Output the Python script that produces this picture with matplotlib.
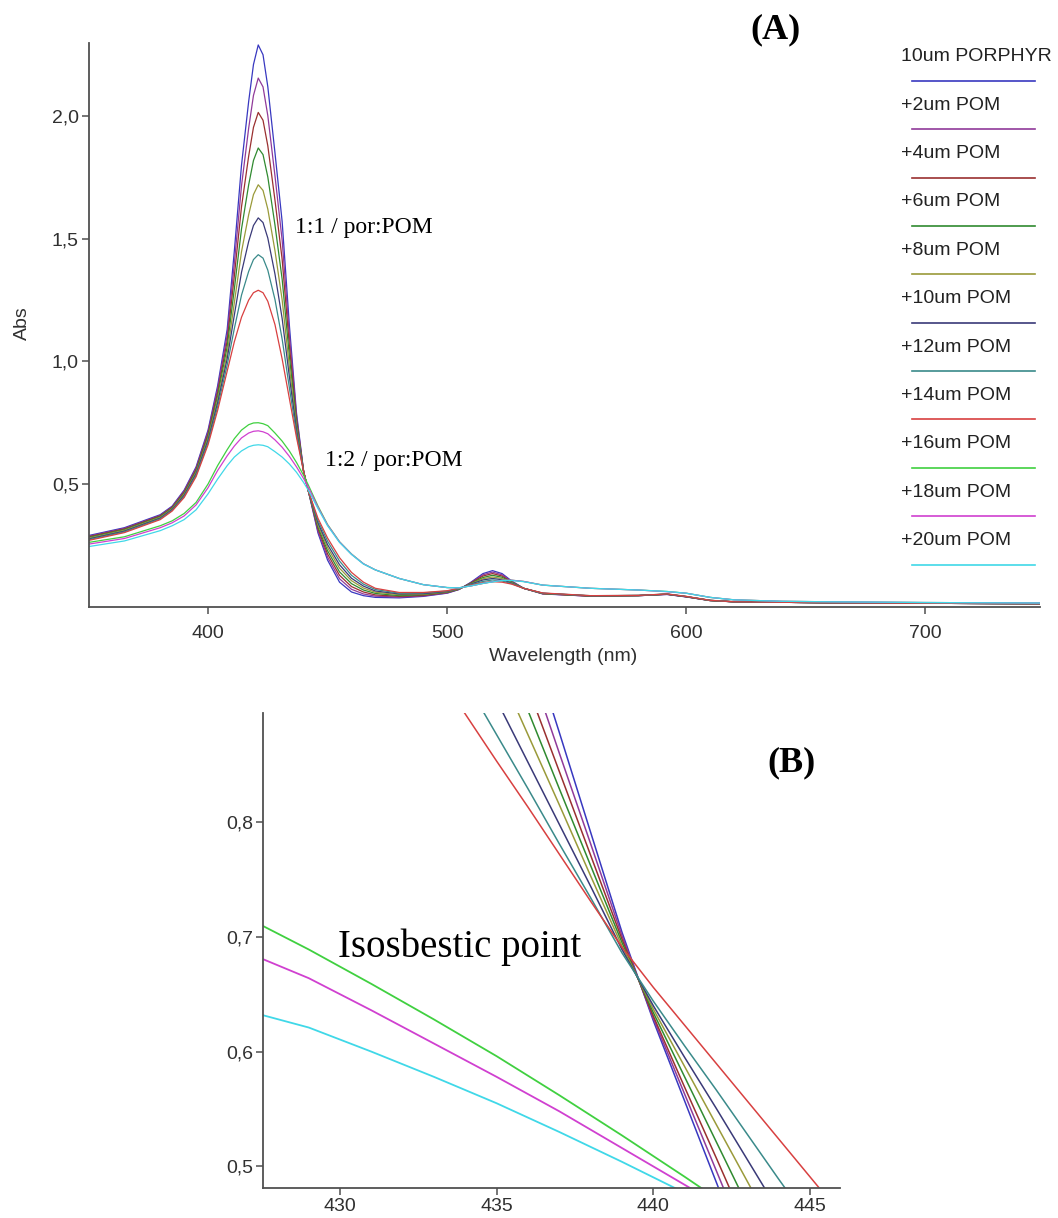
import matplotlib
matplotlib.use('Agg')
import matplotlib.pyplot as plt
from matplotlib.lines import Line2D

# ---------------- data ----------------
series_labels = ['10um PORPHYR', '+2um POM', '+4um POM', '+6um POM', '+8um POM',
                 '+10um POM', '+12um POM', '+14um POM', '+16um POM', '+18um POM',
                 '+20um POM']
series_colors = ['#3838c0', '#903a9a', '#9a3030', '#308a30', '#9a9a3a', '#3a3a78',
                 '#3a8a8a', '#d84040', '#40d040', '#d040d0', '#40d8e8']

# panel (A): full spectra
wl_a = [350, 365, 380, 385, 390, 395, 400, 404, 408, 411, 414, 417, 419, 421, 423,
        425, 428, 431, 434, 437, 440, 442, 446, 450, 455, 460, 465, 470, 480, 490,
        500, 505, 510, 515, 519, 523, 527, 532, 540, 560, 580, 592, 600, 610, 620,
        640, 660, 700, 750]

abs_porphyr = [.290, .322, .375, .410, .475, .570, .720, .900, 1.130, 1.450, 1.800, 2.060,
               2.210, 2.290, 2.250, 2.120, 1.850, 1.570, 1.150, .790, .550, .470, .300,
               .190, .100, .060, .045, .038, .036, .042, .055, .070, .100, .135, .147,
               .135, .105, .075, .052, .043, .045, .050, .040, .025, .020, .018, .016,
               .014, .012]
abs_pom2 = [.287, .319, .372, .407, .471, .565, .712, .887, 1.107, 1.400, 1.716, 1.951,
            2.084, 2.155, 2.119, 2.002, 1.756, 1.494, 1.110, .777, .550, .470, .308,
            .202, .114, .071, .052, .043, .039, .044, .056, .071, .098, .130, .141,
            .130, .103, .075, .053, .043, .045, .050, .040, .025, .020, .018, .016,
            .014, .012]
abs_pom4 = [.285, .317, .370, .405, .467, .559, .704, .873, 1.083, 1.348, 1.630, 1.837,
            1.954, 2.015, 1.983, 1.879, 1.657, 1.416, 1.067, .762, .550, .470, .317,
            .215, .128, .082, .060, .048, .042, .046, .058, .071, .097, .125, .135,
            .125, .101, .075, .053, .043, .045, .051, .041, .025, .020, .018, .016,
            .014, .012]
abs_pom6 = [.282, .314, .367, .402, .462, .553, .695, .858, 1.059, 1.295, 1.540, 1.720,
            1.819, 1.870, 1.843, 1.752, 1.556, 1.335, 1.024, .748, .550, .470, .325,
            .228, .142, .094, .068, .054, .045, .049, .059, .072, .095, .119, .128,
            .120, .100, .075, .054, .044, .045, .051, .041, .025, .020, .018, .016,
            .014, .012]
abs_pom8 = [.279, .311, .364, .399, .458, .547, .686, .843, 1.033, 1.239, 1.447, 1.598,
            1.680, 1.720, 1.697, 1.621, 1.451, 1.251, .979, .733, .550, .470, .334,
            .241, .157, .106, .076, .059, .049, .051, .061, .073, .093, .114, .121,
            .115, .098, .075, .054, .044, .046, .051, .041, .026, .020, .018, .016,
            .014, .012]
abs_pom10 = [.276, .308, .361, .396, .454, .542, .678, .830, 1.010, 1.189, 1.363, 1.489,
             1.554, 1.585, 1.566, 1.503, 1.356, 1.175, .939, .720, .550, .470, .342,
             .253, .171, .116, .084, .064, .052, .053, .062, .074, .092, .109, .115,
             .110, .096, .075, .055, .044, .046, .051, .041, .026, .020, .018, .016,
             .014, .012]
abs_pom12 = [.273, .305, .358, .393, .449, .536, .669, .815, .985, 1.134, 1.270, 1.367,
             1.415, 1.435, 1.421, 1.372, 1.252, 1.091, .894, .705, .550, .470, .351,
             .267, .186, .128, .092, .070, .055, .056, .064, .074, .090, .103, .109,
             .105, .094, .075, .055, .045, .046, .052, .042, .026, .020, .018, .016,
             .014, .012]
abs_pom14 = [.270, .302, .355, .390, .445, .530, .660, .800, .960, 1.080, 1.180, 1.250,
             1.280, 1.290, 1.280, 1.245, 1.150, 1.010, .850, .690, .550, .470, .360,
             .280, .200, .140, .100, .075, .058, .058, .065, .075, .088, .098, .102,
             .100, .092, .075, .056, .045, .046, .052, .042, .026, .020, .018, .016,
             .014, .012]
abs_pom16 = [.262, .285, .330, .350, .380, .425, .500, .575, .640, .685, .720, .742,
             .749, .750, .746, .738, .708, .675, .635, .588, .535, .495, .410, .335,
             .265, .215, .175, .150, .115, .090, .078, .077, .085, .095, .102, .108,
             .108, .103, .088, .075, .068, .062, .055, .038, .028, .022, .020, .017,
             .015]
abs_pom18 = [.255, .278, .322, .342, .370, .415, .485, .555, .615, .655, .688, .708,
             .715, .717, .713, .705, .680, .650, .613, .570, .522, .486, .405, .333,
             .264, .214, .175, .150, .115, .090, .078, .077, .085, .095, .102, .108,
             .108, .103, .088, .075, .068, .061, .055, .038, .028, .022, .020, .017,
             .015]
abs_pom20 = [.245, .268, .310, .330, .355, .395, .460, .520, .575, .610, .635, .652,
             .658, .660, .658, .652, .632, .610, .582, .548, .506, .474, .400, .330,
             .262, .213, .174, .150, .115, .090, .078, .077, .085, .095, .101, .107,
             .107, .102, .088, .075, .068, .062, .055, .038, .028, .022, .020, .017,
             .015]

# panel (B): zoom on the isosbestic point
wl_b_hi = [433, 434, 435, 436, 437, 438, 439, 440, 441, 442, 443, 444, 445, 446]
b_porphyr = [1.224, 1.137, 1.051, .964, .878, .791, .704, .627, .557, .487, .417, .347, .277, .207]
b_pom2 = [1.180, 1.100, 1.020, .940, .860, .781, .701, .629, .563, .497, .431, .365, .299, .233]
b_pom4 = [1.135, 1.062, .990, .917, .844, .771, .698, .631, .569, .508, .446, .384, .323, .261]
b_pom6 = [1.098, 1.031, .964, .897, .829, .762, .695, .634, .578, .522, .466, .410, .354, .298]
b_pom8 = [1.059, .998, .937, .876, .815, .753, .692, .637, .587, .537, .487, .437, .387, .337]
b_pom10 = [1.015, .961, .906, .852, .798, .744, .689, .640, .595, .551, .506, .461, .417, .372]
b_pom12 = [.971, .923, .876, .829, .781, .734, .686, .644, .605, .567, .528, .489, .451, .412]
b_pom14 = [.935, .894, .853, .813, .772, .731, .691, .656, .623, .590, .557, .524, .491, .458]

wl_b_lo = [427.5, 429, 431, 433, 435, 437, 439, 441, 443]
b_pom16 = [.710, .689, .659, .628, .596, .562, .527, .491, .454]
b_pom18 = [.681, .664, .636, .607, .578, .548, .516, .484, .452]
b_pom20 = [.632, .621, .600, .578, .555, .530, .504, .477, .450]

yticks_a = [0.5, 1.0, 1.5, 2.0]
yticklabels_a = ['0,5', '1,0', '1,5', '2,0']
xticks_a = [400, 500, 600, 700]
yticks_b = [0.5, 0.6, 0.7, 0.8]
yticklabels_b = ['0,5', '0,6', '0,7', '0,8']
xticks_b = [430, 435, 440, 445]

# ---------------- figure ----------------
W, H = 1058, 1218
SANS = ['Liberation Sans', 'DejaVu Sans']
SERIF = ['Liberation Serif', 'DejaVu Serif']
plt.rcParams['font.family'] = SANS

fig = plt.figure(figsize=(W / 100, H / 100), dpi=100)


def style_axes(ax, xpad):
    for side in ['top', 'right']:
        ax.spines[side].set_visible(False)
    for side in ['left', 'bottom']:
        ax.spines[side].set_color('#505050')
        ax.spines[side].set_linewidth(1.3)
    ax.tick_params(direction='out', length=5, width=1.1, color='#505050',
                   labelsize=14, labelcolor='#303030', pad=2)
    ax.tick_params(axis='x', pad=xpad)


# (A) full spectra
ax_a = fig.add_axes([88.5 / W, 1 - 606.7 / H, (1040 - 88.5) / W, (606.7 - 42.5) / H])
spectra_a = [abs_porphyr, abs_pom2, abs_pom4, abs_pom6, abs_pom8, abs_pom10,
             abs_pom12, abs_pom14, abs_pom16, abs_pom18, abs_pom20]
for vals, c in zip(spectra_a, series_colors):
    ax_a.plot(wl_a, vals, color=c, lw=0.9)
ax_a.set_xlim(350, 748)
ax_a.set_ylim(0, 2.3)
ax_a.set_xticks(xticks_a)
ax_a.set_yticks(yticks_a)
ax_a.set_yticklabels(yticklabels_a)
style_axes(ax_a, xpad=8)

ax_a.text(436.3, 1.544, '1:1 / por:POM', family=SERIF, fontsize=17, va='center', ha='left')
ax_a.text(448.9, 0.594, '1:2 / por:POM', family=SERIF, fontsize=17, va='center', ha='left')

fig.text(563 / W, 1 - 657 / H, 'Wavelength (nm)', fontsize=14, color='#303030',
         ha='center', va='center')
fig.text(22 / W, 1 - 323 / H, 'Abs', fontsize=14, color='#303030', rotation=90,
         ha='center', va='center')
fig.text(776 / W, 1 - 30 / H, '(A)', family=SERIF, fontsize=26, fontweight='bold',
         ha='center', va='center')

# legend drawn as in the original: label above, line below
for k, (lab, c) in enumerate(zip(series_labels, series_colors)):
    ty = 56.7 + 48.4 * k
    ly = 80.7 + 48.4 * k
    fig.text(901 / W, 1 - ty / H, lab, fontsize=14, color='#222222',
             ha='left', va='center')
    fig.add_artist(Line2D([912 / W, 1035 / W], [1 - ly / H, 1 - ly / H],
                          transform=fig.transFigure, color=c, lw=1.2))

# (B) zoom on isosbestic point
ax_b = fig.add_axes([263 / W, 1 - 1188 / H, (840 - 263) / W, (1188 - 713) / H])
spectra_b_hi = [b_porphyr, b_pom2, b_pom4, b_pom6, b_pom8, b_pom10, b_pom12, b_pom14]
for vals, c in zip(spectra_b_hi, series_colors[:8]):
    ax_b.plot(wl_b_hi, vals, color=c, lw=1.1)
for vals, c in zip([b_pom16, b_pom18, b_pom20], series_colors[8:]):
    ax_b.plot(wl_b_lo, vals, color=c, lw=1.3)
ax_b.set_xlim(427.54, 445.96)
ax_b.set_ylim(0.4812, 0.895)
ax_b.set_xticks(xticks_b)
ax_b.set_yticks(yticks_b)
ax_b.set_yticklabels(yticklabels_b)
style_axes(ax_b, xpad=2)

ax_b.text(444.4, 0.852, '(B)', family=SERIF, fontsize=26, fontweight='bold',
          ha='center', va='center')
ax_b.text(429.94, 0.691, 'Isosbestic point', family=SERIF, fontsize=28,
          ha='left', va='center')

fig.savefig('out.png', dpi=100)
